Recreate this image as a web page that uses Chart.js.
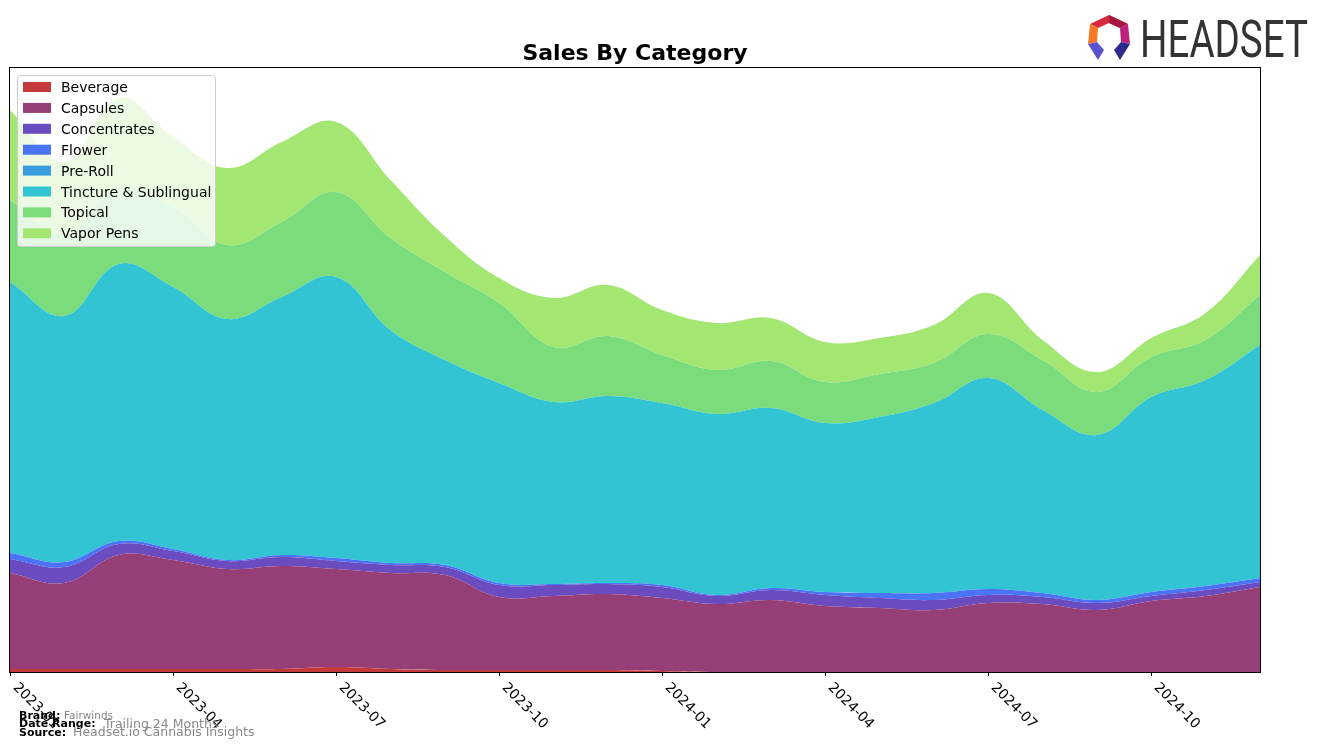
<!DOCTYPE html>
<html>
<head>
<meta charset="utf-8">
<script src="https://cdn.jsdelivr.net/npm/chart.js@4"></script>
<style>
	body { margin: 0; background: #fff; }
	#wrap { position: relative; width: 1324px; height: 749px; }
	#chart-area { position: absolute; left: 0; top: 0; }
	#overlay { position: absolute; left: 0; top: 0; pointer-events: none; }
	text { font-family: "DejaVu Sans", sans-serif; }
</style>
</head>
<body>
<div id="wrap">
	<canvas id="chart-area" width="1324" height="749"></canvas>
	<svg id="overlay" width="1324" height="749" xmlns="http://www.w3.org/2000/svg">
		<text x="635" y="60" text-anchor="middle" font-size="22" font-weight="bold" fill="#000">Sales By Category</text>
		<!-- logo -->
		<g transform="translate(1084,12)">
			<polygon points="6,12 25,3 44,12 36,16 25,11 14,16" fill="#d42a3c"/>
			<polygon points="25,3 44,12 36,16 25,11" fill="#a8183e"/>
			<polygon points="6,12 14,16 13,30 4,32" fill="#f47a26"/>
			<polygon points="44,12 46,32 37,30 36,16" fill="#c0237e"/>
			<polygon points="4,32 13,30 20,38 14,48" fill="#5a52d0"/>
			<polygon points="46,32 37,30 30,38 36,48" fill="#2e2a8c"/>
		</g>
		<text x="1140" y="57" font-size="52" fill="#333" textLength="168" lengthAdjust="spacingAndGlyphs" style="font-family: Roboto, sans-serif">HEADSET</text>
		<!-- footer -->
		<text x="19" y="719" font-size="11" font-weight="bold" fill="#000">Brand:</text>
		<text x="64" y="719" font-size="10.5" fill="#888">Fairwinds</text>
		<text x="19" y="727" font-size="11" font-weight="bold" fill="#000">Date Range:</text>
		<text x="104" y="728" font-size="12.5" fill="#888">Trailing 24 Months</text>
		<text x="19" y="736" font-size="11" font-weight="bold" fill="#000">Source:</text>
		<text x="73" y="736" font-size="12.5" fill="#888">Headset.io Cannabis Insights</text>
		<g id="legend"></g>
	</svg>
</div>
<script>
	// monthly data
	var months = ['2023-01','2023-02','2023-03','2023-04','2023-05','2023-06','2023-07','2023-08','2023-09','2023-10','2023-11','2023-12',
		'2024-01','2024-02','2024-03','2024-04','2024-05','2024-06','2024-07','2024-08','2024-09','2024-10','2024-11','2024-12'];
	var tickLabels = ['2023-01','2023-04','2023-07','2023-10','2024-01','2024-04','2024-07','2024-10'];

	var beverage     = [3, 3, 3, 3, 3, 3, 5, 3, 2, 2, 2, 2, 1, 0, 0, 0, 0, 0, 0, 0, 0, 0, 0, 0];
	var capsules     = [96, 86, 114, 109, 100, 103, 98, 96, 95, 73, 74, 76, 73, 68, 72, 66, 64, 62, 69, 68, 62, 71, 76, 85];
	var concentrates = [14, 16, 11, 9, 8, 9, 8, 8, 8, 12, 11, 10, 11, 8, 10, 11, 10, 10, 8, 7, 7, 5, 6, 5];
	var flower       = [6, 5, 3, 2, 1, 2, 3, 2, 2, 2, 1, 1, 2, 1, 2, 3, 5, 7, 6, 4, 3, 4, 4, 4];
	var preRoll      = [0, 0, 0, 0, 0, 0, 0, 0, 0, 0, 0, 0, 0, 0, 0, 0, 0, 0, 0, 0, 0, 0, 0, 0];
	var tincture     = [271, 246, 277, 262, 241, 258, 281, 233, 205, 200, 182, 187, 182, 181, 180, 169, 176, 190, 211, 183, 165, 195, 206, 233];
	var topical      = [82, 81, 76, 80, 74, 75, 85, 92, 88, 80, 55, 60, 48, 44, 47, 41, 43, 40, 44, 50, 43, 40, 40, 50];
	var vaporPens    = [90, 73, 90, 70, 77, 80, 70, 58, 36, 25, 49, 51, 45, 47, 43, 40, 36, 38, 41, 20, 20, 19, 27, 40];

	var categories = ['Beverage','Capsules','Concentrates','Flower','Pre-Roll','Tincture & Sublingual','Topical','Vapor Pens'];
	var colors = ['#c4393b','#963f76','#6a4cc0','#4a73f5','#3b9de0','#33c4d3','#7bdc7c','#a3e672'];

	init();

	function init () {
		salesChart();
		drawLegend();
	}

	function salesChart () {
		var series = [beverage, capsules, concentrates, flower, preRoll, tincture, topical, vaporPens];
		var datasets = [];
		for (var i = 0; i < series.length; i++) {
			datasets.push({
				label: categories[i],
				data: series[i],
				backgroundColor: colors[i],
				borderWidth: 0,
				pointRadius: 0,
				tension: 0.4,
				fill: i == 0 ? 'origin' : '-1'
			});
		}

		// frame, tick marks and slanted date labels
		var axisDecor = {
			id: 'axisDecor',
			afterDraw: function (chart) {
				var ctx = chart.ctx;
				var area = chart.chartArea;
				var xs = chart.scales.x;
				ctx.save();
				ctx.strokeStyle = '#000';
				ctx.lineWidth = 1;
				ctx.strokeRect(area.left - 0.5, area.top - 0.5, area.right - area.left + 1, area.bottom - area.top + 1);
				ctx.font = '14px "DejaVu Sans"';
				ctx.fillStyle = '#000';
				ctx.textAlign = 'left';
				ctx.textBaseline = 'alphabetic';
				for (var i = 0; i < tickLabels.length; i++) {
					var px = Math.round(xs.getPixelForValue(months.indexOf(tickLabels[i]))) + 0.5;
					ctx.beginPath();
					ctx.moveTo(px, area.bottom);
					ctx.lineTo(px, area.bottom + 4);
					ctx.stroke();
					ctx.save();
					ctx.translate(px + 2, area.bottom + 16);
					ctx.rotate(Math.PI / 4);
					ctx.fillText(tickLabels[i], 0, 0);
					ctx.restore();
				}
				ctx.restore();
			}
		};

		var config = {
			type: 'line',
			data: {
				labels: months,
				datasets: datasets
			},
			options: {
				responsive: false,
				animation: false,
				layout: { padding: { left: 10, right: 64, top: 68, bottom: 77 } },
				scales: {
					x: { display: false, offset: false },
					y: { display: false, stacked: true, min: 0, max: 604 }
				},
				plugins: {
					legend: { display: false },
					tooltip: { enabled: false }
				}
			},
			plugins: [axisDecor]
		};

		var ctx = document.getElementById('chart-area').getContext('2d');
		window.salesByCategory = new Chart(ctx, config);
	}

	function drawLegend () {
		var ns = 'http://www.w3.org/2000/svg';
		var g = document.getElementById('legend');
		var box = document.createElementNS(ns, 'rect');
		box.setAttribute('x', 17.5);
		box.setAttribute('y', 75.5);
		box.setAttribute('width', 198);
		box.setAttribute('height', 171);
		box.setAttribute('rx', 3);
		box.setAttribute('fill', 'rgba(255,255,255,0.8)');
		box.setAttribute('stroke', '#cccccc');
		g.appendChild(box);
		for (var i = 0; i < categories.length; i++) {
			var y = 87 + i * 20.9;
			var patch = document.createElementNS(ns, 'rect');
			patch.setAttribute('x', 23);
			patch.setAttribute('y', y - 5);
			patch.setAttribute('width', 28);
			patch.setAttribute('height', 10);
			patch.setAttribute('fill', colors[i]);
			g.appendChild(patch);
			var label = document.createElementNS(ns, 'text');
			label.setAttribute('x', 61);
			label.setAttribute('y', y + 5);
			label.setAttribute('font-size', 14);
			label.setAttribute('fill', '#000');
			label.textContent = categories[i];
			g.appendChild(label);
		}
	}
</script>
</body>
</html>
